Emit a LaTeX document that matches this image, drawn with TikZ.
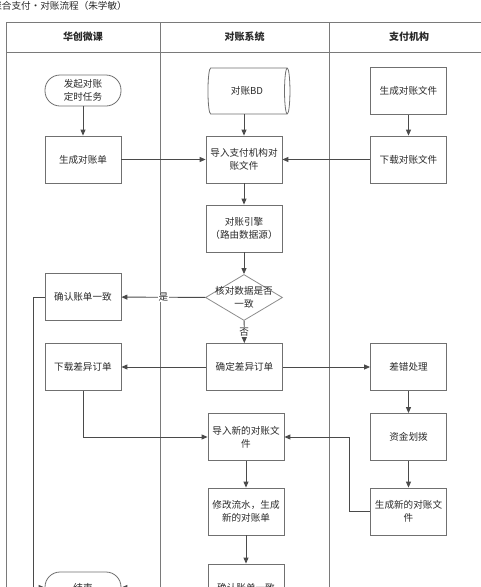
\documentclass[tikz,border=0pt]{standalone}
\usepackage{fontspec}
\setmainfont{Noto Sans CJK SC}
\usetikzlibrary{shapes.geometric,arrows.meta}
\definecolor{boxc}{HTML}{707070}
\definecolor{linec}{HTML}{7A7A7A}
\definecolor{arrc}{HTML}{4A4A4A}
\definecolor{txt}{HTML}{2A2A2A}
\begin{document}
\begin{tikzpicture}[x=1pt,y=-1pt,
  box/.style={draw=boxc, line width=0.8pt, minimum width=76pt, minimum height=47pt, align=center,
    font=\fontsize{9.6}{13}\selectfont, text=txt, inner sep=1pt},
  term/.style={box, rounded corners=15pt, minimum height=31pt},
  db/.style={box, cylinder, shape border rotate=0, aspect=0.5, minimum height=82pt, minimum width=46pt},
  dia/.style={draw=boxc!80, line width=0.8pt, diamond, minimum width=77pt, minimum height=46pt, inner sep=0pt},
  lane/.style={draw=linec, line width=0.8pt},
  hdr/.style={font=\bfseries\fontsize{10}{12}\selectfont, text=txt},
  arr/.style={draw=arrc, line width=0.9pt, -{Triangle[length=6pt,width=5pt]}},
  lbl/.style={font=\fontsize{9.6}{12}\selectfont, text=txt, fill=white, inner sep=1pt}
]
\useasboundingbox (0,0) rectangle (480,587);
\fill[white] (0,0) rectangle (480,587);
% title
\node[anchor=east, font=\fontsize{9.6}{12}\selectfont, text=txt, inner sep=0pt] (title) at (127,6) {聚合支付·对账流程（朱学敏）};
% lanes
\draw[lane] (6,600) -- (6,22) -- (490,22);
\draw[lane] (6,52) -- (490,52);
\draw[lane] (160,22) -- (160,600);
\draw[lane] (329,22) -- (329,600);
\node[hdr] (h1) at (83,37) {华创微课};
\node[hdr] (h2) at (244.5,37) {对账系统};
\node[hdr] (h3) at (409,37) {支付机构};
% nodes
\node[term] (start) at (83,90.5) {发起对账\\定时任务};
\node[box] (gen) at (83,159.5) {生成对账单};
\node[db] (bd) at (247,91) {对账BD};
\node[box] (pgen) at (408.5,91) {生成对账文件};
\node[box] (imp) at (244,159.5) {导入支付机构对\\账文件};
\node[box] (pdl) at (408.5,159.5) {下载对账文件};
\node[box] (eng) at (244,228.5) {对账引擎\\（路由数据源）};
\node[dia, label={[font=\fontsize{9.6}{13}\selectfont, text=txt, align=center]center:核对数据是否\\一致}] (chk) at (244,297.5) {};
\node[box] (ok1) at (83,297) {确认账单一致};
\node[box] (diff) at (244.5,367) {确定差异订单};
\node[box] (ddl) at (83,367) {下载差异订单};
\node[box] (err) at (408.5,367) {差错处理};
\node[box] (imp2) at (246,437) {导入新的对账文\\件};
\node[box] (fund) at (408.5,437) {资金划拨};
\node[box] (mod) at (246,511.5) {修改流水，生成\\新的对账单};
\node[box] (pnew) at (408.5,511.5) {生成新的对账文\\件};
\node[box] (ok2) at (246,587.5) {确认账单一致};
\node[term] (end) at (83,587.5) {结束};
% connectors
\draw[arr] (start) -- (gen);
\draw[arr] (gen) -- (imp);
\draw[arr] (bd.south -| imp.north) -- (imp.north);
\draw[arr] (pgen) -- (pdl);
\draw[arr] (pdl) -- (imp);
\draw[arr] (imp) -- (eng);
\draw[arr] (eng) -- (chk);
\draw[arr] (chk) -- node[lbl] {是} (ok1);
\draw[arr] (chk) -- node[lbl] {否} (diff);
\draw[arr] (diff) -- (ddl);
\draw[arr] (diff) -- (err);
\draw[arr] (ddl.south) |- (imp2.west);
\draw[arr] (err) -- (fund);
\draw[arr] (fund) -- (pnew);
\coordinate (jr) at (349,511.5);
\draw[arr] (pnew.west) -- (jr) |- (imp2.east);
\draw[arr] (imp2) -- (mod);
\draw[arr] (mod) -- (ok2);
\coordinate (jl) at (33,297);
\draw[arr] (ok1.west) -- (jl) |- (end.west);
\draw[arr] (ok2) -- (end);
\end{tikzpicture}
\end{document}
